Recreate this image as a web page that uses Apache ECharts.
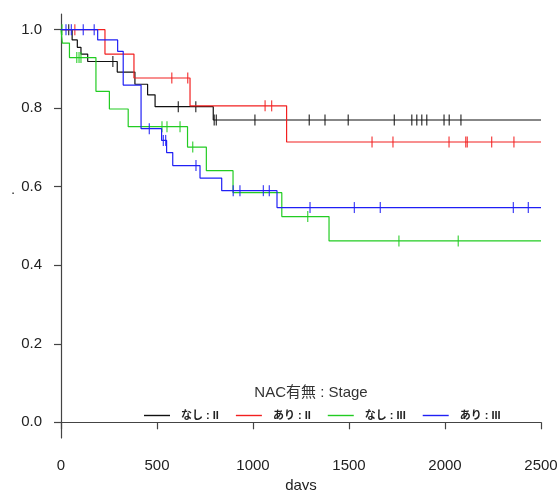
<!DOCTYPE html>
<html>
<head>
<meta charset="utf-8">
<script src="https://cdn.jsdelivr.net/npm/echarts@6/dist/echarts.min.js"></script>
<style>
  html, body { margin: 0; padding: 0; background: #fff; }
  #chart { width: 558px; height: 490px; }
</style>
</head>
<body>
<div id="chart"></div>
<script>
// Kaplan-Meier step curves: event times (days) and survival after each step
const blackTimes = [0, 58, 85, 104, 139, 293, 385, 451, 490, 793, 2500];
const blackSurv  = [1, 0.974, 0.955, 0.938, 0.919, 0.892, 0.861, 0.834, 0.804, 0.770, 0.770];
const redTimes   = [0, 229, 380, 672, 1175, 2500];
const redSurv    = [1, 0.938, 0.877, 0.806, 0.714, 0.714];
const greenTimes = [0, 7, 44, 182, 252, 350, 659, 757, 896, 1150, 1396, 2500];
const greenSurv  = [1, 0.966, 0.929, 0.843, 0.798, 0.753, 0.701, 0.641, 0.585, 0.524, 0.462, 0.462];
const blueTimes  = [0, 191, 295, 324, 417, 524, 550, 582, 724, 837, 1125, 2500];
const blueSurv   = [1, 0.974, 0.945, 0.859, 0.748, 0.718, 0.687, 0.654, 0.622, 0.590, 0.547, 0.547];

// Censoring times (days)
const blackCensor = [40, 270, 611, 702, 798, 809, 1010, 1293, 1375, 1496, 1736, 1827, 1853, 1879, 1905, 1995, 2022, 2083];
const redCensor   = [72, 577, 660, 1063, 1097, 1620, 1729, 2021, 2108, 2116, 2243, 2359];
const greenCensor = [5, 82, 94, 104, 526, 552, 620, 686, 1285, 1760, 2069];
const blueCensor  = [26, 54, 116, 173, 460, 533, 545, 703, 897, 932, 1054, 1085, 1297, 1528, 1663, 2356, 2434];

const groupNames  = ['なし : II', 'あり : II', 'なし : III', 'あり : III'];
const groupColors = ['#111111', '#f22020', '#22cc22', '#2020f5'];
const yTicks = [0, 0.2, 0.4, 0.6, 0.8, 1.0];
const xTicks = [0, 500, 1000, 1500, 2000, 2500];

const groups = [
  { times: blackTimes, surv: blackSurv, censor: blackCensor },
  { times: redTimes,   surv: redSurv,   censor: redCensor },
  { times: greenTimes, surv: greenSurv, censor: greenCensor },
  { times: blueTimes,  surv: blueSurv,  censor: blueCensor }
];

// survival value of a step curve at time t
function survAt(times, surv, t) {
  let s = surv[0];
  for (let i = 0; i < times.length; i++) {
    if (times[i] <= t) s = surv[i]; else break;
  }
  return s;
}

const FONT = '"Liberation Sans", Arial, "Noto Sans CJK JP", sans-serif';
const AXIS_COLOR = '#444';

const series = [];
groups.forEach((g, k) => {
  series.push({
    name: groupNames[k],
    type: 'line',
    step: 'end',
    symbol: 'none',
    silent: true,
    z: 2 + k,
    lineStyle: { color: groupColors[k], width: 1.2 },
    itemStyle: { color: groupColors[k] },
    data: g.times.map((t, i) => [t, g.surv[i]])
  });
});
groups.forEach((g, k) => {
  series.push({
    name: groupNames[k] + ' censor',
    type: 'scatter',
    symbol: 'rect',
    symbolSize: [1.3, 11],
    silent: true,
    z: 2 + k,
    itemStyle: { color: groupColors[k] },
    data: g.censor.map(t => [t, survAt(g.times, g.surv, t)])
  });
});

const chart = echarts.init(document.getElementById('chart'), null, { renderer: 'canvas' });
chart.setOption({
  animation: false,
  backgroundColor: '#ffffff',
  grid: { left: 61, right: 17, top: 14, bottom: 52, containLabel: false, outerBoundsMode: 'none' },
  xAxis: {
    type: 'value',
    min: 0, max: 2500, interval: 500,
    name: 'days',
    nameLocation: 'middle',
    nameGap: 39,
    nameTextStyle: { fontFamily: FONT, fontSize: 15, color: '#222' },
    axisLine: { show: true, lineStyle: { color: AXIS_COLOR, width: 1.2 } },
    axisTick: { show: true, length: 7, lineStyle: { color: AXIS_COLOR, width: 1.2 }, customValues: xTicks },
    axisLabel: {
      fontFamily: FONT, fontSize: 15, color: '#222', margin: 20,
      customValues: xTicks,
      formatter: v => String(v)
    },
    splitLine: { show: false }
  },
  yAxis: {
    type: 'value',
    min: -0.04, max: 1.04,
    axisLine: { show: true, lineStyle: { color: AXIS_COLOR, width: 1.2 } },
    axisTick: { show: true, length: 7, lineStyle: { color: AXIS_COLOR, width: 1.2 }, customValues: yTicks },
    axisLabel: {
      fontFamily: FONT, fontSize: 15, color: '#222', margin: 19,
      customValues: yTicks,
      formatter: v => v.toFixed(1)
    },
    splitLine: { show: false }
  },
  legend: {
    data: groupNames,
    left: 139,
    top: 405,
    icon: 'rect',
    itemWidth: 26,
    itemHeight: 1.4,
    itemGap: 17,
    textStyle: { fontFamily: FONT, fontSize: 11, fontWeight: 'bold', color: '#222', padding: [0, 0, 0, 6] },
    selectedMode: false
  },
  graphic: [
    {
      type: 'text',
      x: 311, y: 393,
      style: {
        text: 'NAC有無 : Stage',
        font: '15px ' + FONT,
        fill: '#333',
        align: 'center',
        verticalAlign: 'middle'
      }
    },
    {
      type: 'text',
      x: 13, y: 190,
      style: { text: '.', font: '15px ' + FONT, fill: '#333', align: 'center', verticalAlign: 'middle' }
    }
  ],
  series: series
});
</script>
</body>
</html>
